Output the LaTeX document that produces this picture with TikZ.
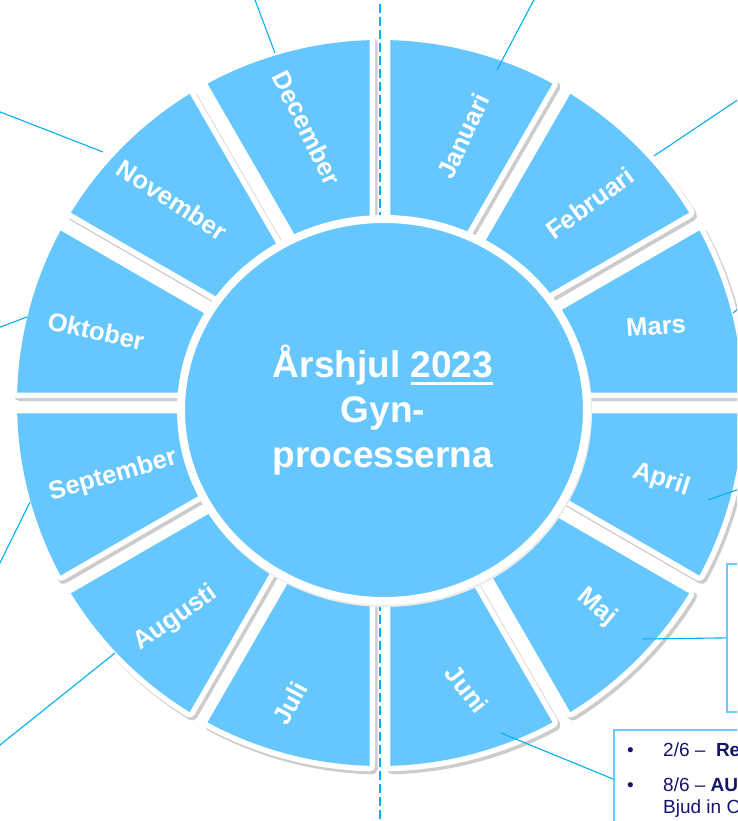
\documentclass[tikz,border=0pt]{standalone}
\usepackage{fontspec}
\setmainfont{Liberation Sans}
\usetikzlibrary{shapes.geometric}
\definecolor{segblue}{HTML}{66C7FF}
\definecolor{lineblue}{HTML}{00B0F0}
\definecolor{boxblue}{HTML}{66CCFF}
\definecolor{navy}{HTML}{15156E}
\newcommand\ulbox[1]{\setbox0=\hbox{#1}\rlap{\rule[-7.5pt]{\wd0}{3pt}}\box0}
\begin{document}
\begin{tikzpicture}[x=1pt,y=1pt,
  mlabel/.style={text=white, font=\fontsize{25.5}{30}\selectfont\bfseries, inner sep=0pt},
  ctext/.style={text=white, font=\fontsize{37}{44}\selectfont\bfseries, inner sep=0pt, anchor=base},
  conn/.style={draw=lineblue, line width=1.1pt},
  btext/.style={text=navy, font=\fontsize{19}{22}\selectfont, inner sep=0pt, anchor=base west},
  infobox/.style={draw=boxblue, line width=1.8pt, fill=white, inner sep=0pt, anchor=north west},
  segshadow/.style={fill=black!20, draw=black!20, line width=11pt, line join=round},
  segment/.style={preaction={draw=white, line width=11pt, line join=round}, fill=segblue}]
\useasboundingbox (0,0) rectangle (737,821);
\clip (0,0) rectangle (737,821);
\fill[white] (0,0) rectangle (737,821);

% segment shadows
\begin{scope}[shift={(380,418)}]
\pgfmathsetmacro\dO{asin(10.3/363)}
\pgfmathsetmacro\dI{asin(10.3/130)}
\foreach \a/\b in {60/90,30/60,0/30,-30/0,-60/-30,-90/-60,-120/-90,-150/-120,-180/-150,150/180,120/150,90/120}{
  \path[segshadow, shift={(2.5,-3)}]
    (\a+\dO:363pt) arc[start angle=\a+\dO, end angle=\b-\dO, radius=363pt]
    -- (\b-\dI:130pt) arc[start angle=\b-\dI, end angle=\a+\dI, radius=130pt] -- cycle;
}
\end{scope}

% dashed axis
\coordinate (axT) at (380,830);
\coordinate (axB) at (380,-10);
\draw[lineblue, line width=2pt, dash pattern=on 9pt off 4pt] (axT) -- (axB);

% segments
\begin{scope}[shift={(380,418)}]
\pgfmathsetmacro\dO{asin(10.3/363)}
\pgfmathsetmacro\dI{asin(10.3/130)}
\foreach \a/\b in {60/90,30/60,0/30,-30/0,-60/-30,-90/-60,-120/-90,-150/-120,-180/-150,150/180,120/150,90/120}{
  \path[segment]
    (\a+\dO:363pt) arc[start angle=\a+\dO, end angle=\b-\dO, radius=363pt]
    -- (\b-\dI:130pt) arc[start angle=\b-\dI, end angle=\a+\dI, radius=130pt] -- cycle;
}
\end{scope}

% hub
\fill[black!8] (385,409) ellipse[x radius=207pt, y radius=195pt];
\node[ellipse, minimum width=406pt, minimum height=382pt, inner sep=0pt,
      fill=segblue, draw=white, line width=8pt] (hub) at (384,411) {};
\node[ctext] (c1) at (383,443) {Årshjul \ulbox{2023}};
\node[ctext] (c2) at (383,398) {Gyn-};
\node[ctext] (c3) at (383,353) {processerna};

% month labels
\node[mlabel, rotate=65]  (jan) at (463,685) {Januari};
\node[mlabel, rotate=36]  (feb) at (590,618) {Februari};
\node[mlabel, rotate=4]   (mar) at (656,495) {Mars};
\node[mlabel, rotate=-18] (apr) at (661,341) {April};
\node[mlabel, rotate=-40] (maj) at (597,214) {Maj};
\node[mlabel, rotate=-52] (jun) at (467,132) {Juni};
\node[mlabel, rotate=62]  (jul) at (290,118) {Juli};
\node[mlabel, rotate=35]  (aug) at (176,203) {Augusti};
\node[mlabel, rotate=16]  (sep) at (113,345) {September};
\node[mlabel, rotate=-12] (okt) at (96,490)  {Oktober};
\node[mlabel, rotate=-33] (nov) at (172,621) {November};
\node[mlabel, rotate=-64] (dec) at (307,693) {December};

% info boxes
\node[infobox, minimum width=120pt, minimum height=148pt] (majbox) at (726,258) {};
\node[infobox, minimum width=200pt, minimum height=100pt] (junbox) at (613,92) {};
\node[btext] (b1) at (627,64) {•};
\node[btext] (t1) at (663,64) {2/6 –\ \ \textbf{Re}};
\node[btext] (b2) at (627,29) {•};
\node[btext] (t2) at (663,29) {8/6 – \textbf{AU}};
\node[btext] (t3) at (663,8) {Bjud in C};

% connectors
\coordinate (janA) at (497,751); \coordinate (janB) at (538,829);
\coordinate (febA) at (654,665); \coordinate (febB) at (745,726);
\coordinate (marA) at (733,508); \coordinate (marB) at (745,518);
\coordinate (aprA) at (708,321); \coordinate (aprB) at (745,334);
\coordinate (majA) at (643,182);
\coordinate (junA) at (501,88);  \coordinate (junB) at (613,42);
\coordinate (augA) at (115,168); \coordinate (augB) at (-10,68);
\coordinate (sepA) at (30,319);  \coordinate (sepB) at (-5,248);
\coordinate (oktA) at (27,504);  \coordinate (oktB) at (-10,490);
\coordinate (novA) at (103,669); \coordinate (novB) at (-10,713);
\coordinate (decA) at (275,768); \coordinate (decB) at (252,829);
\draw[conn] (janA) -- (janB);
\draw[conn] (febA) -- (febB);
\draw[conn] (marA) -- (marB);
\draw[conn] (aprA) -- (aprB);
\draw[conn] (majA) -- (majbox.west);
\draw[conn] (junA) -- (junB);
\draw[conn] (augA) -- (augB);
\draw[conn] (sepA) -- (sepB);
\draw[conn] (oktA) -- (oktB);
\draw[conn] (novA) -- (novB);
\draw[conn] (decA) -- (decB);
\end{tikzpicture}
\end{document}
